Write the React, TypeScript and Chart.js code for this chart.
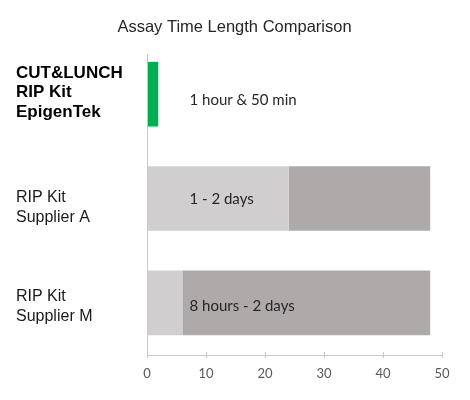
import { useEffect, useRef } from "react";
import { Chart, registerables, Plugin } from "chart.js";

Chart.register(...registerables);

const kits = [
  ["CUT&LUNCH", "RIP Kit", "EpigenTek"],
  ["RIP Kit", "Supplier A"],
  ["RIP Kit", "Supplier M"],
];
const shortestHours = [1.9, 24, 6];
const extraHours = [0, 24, 42];
const timeLabels = ["1 hour & 50 min", "1 - 2 days", "8 hours - 2 days"];
const baseColors = ["#00B050", "#D0CECE", "#D0CECE"];

const AXIS_GREY = "#C8C8C8";
const ARIAL = "'Liberation Sans', Arial, sans-serif";

const extrasPlugin: Plugin<"bar"> = {
  id: "extras",
  afterDraw(chart) {
    const { ctx, chartArea, scales } = chart;
    const x = scales.x;
    const y = scales.y;
    ctx.save();
    // vertical axis line, starting a bit below the top of the plot
    ctx.strokeStyle = AXIS_GREY;
    ctx.lineWidth = 1;
    ctx.beginPath();
    ctx.moveTo(chartArea.left + 0.5, chartArea.top + 12);
    ctx.lineTo(chartArea.left + 0.5, chartArea.bottom);
    ctx.stroke();
    // tick marks cross the x axis line
    x.ticks.forEach((t) => {
      const px = Math.round(x.getPixelForValue(t.value)) + 0.5;
      ctx.beginPath();
      ctx.moveTo(px, chartArea.bottom - 3);
      ctx.lineTo(px, chartArea.bottom);
      ctx.stroke();
    });

    // category labels (left aligned, nudged like the original)
    ctx.textAlign = "left";
    ctx.textBaseline = "middle";
    const catShift = [-1.5, 9, 4];
    const lineH = 19.5;
    kits.forEach((lines, i) => {
      ctx.font = i === 0 ? `bold 17px ${ARIAL}` : `16px ${ARIAL}`;
      ctx.fillStyle = i === 0 ? "#000000" : "#1a1a1a";
      const mid = y.getPixelForValue(i) + catShift[i];
      lines.forEach((ln, j) => {
        ctx.fillText(ln, 16, mid + (j - (lines.length - 1) / 2) * lineH);
      });
    });

    // duration labels on the bars
    ctx.fillStyle = "#262626";
    ctx.font = "15px Lato, 'Open Sans', sans-serif";
    const offsets = [6, 1, 3];
    timeLabels.forEach((txt, i) => {
      ctx.fillText(txt, x.getPixelForValue(7.2), y.getPixelForValue(i) + offsets[i]);
    });
    ctx.restore();
  },
};

export default function App() {
  const chartRef = useRef<HTMLCanvasElement | null>(null);
  const chartInstance = useRef<Chart | null>(null);

  useEffect(() => {
    if (!chartRef.current) return;
    const ctx = chartRef.current.getContext("2d");
    if (!ctx) return;

    if (chartInstance.current) {
      chartInstance.current.destroy();
    }

    chartInstance.current = new Chart(ctx, {
      type: "bar",
      data: {
        labels: kits,
        datasets: [
          {
            label: "Shortest",
            data: shortestHours,
            backgroundColor: baseColors,
            categoryPercentage: 1,
            barPercentage: 0.62,
          },
          {
            label: "Longest",
            data: extraHours,
            backgroundColor: "#AEAAAA",
            categoryPercentage: 1,
            barPercentage: 0.62,
          },
        ],
      },
      options: {
        indexAxis: "y",
        responsive: false,
        animation: false,
        layout: { padding: { left: 27, right: 28, top: 0, bottom: 0 } },
        plugins: {
          legend: { display: false },
          tooltip: { enabled: false },
          title: {
            display: true,
            text: "Assay Time Length Comparison",
            color: "#262626",
            font: { family: ARIAL, size: 16.5, weight: "normal" },
            padding: { top: 18, bottom: 4.2 },
          },
        },
        scales: {
          x: {
            stacked: true,
            min: 0,
            max: 50,
            ticks: {
              stepSize: 10,
              color: "#595959",
              font: { family: "Lato, 'Open Sans', sans-serif", size: 13 },
              padding: 8,
            },
            grid: {
              drawOnChartArea: false,
              drawTicks: true,
              tickLength: 3,
              color: AXIS_GREY,
            },
            border: { display: true, color: AXIS_GREY },
            afterFit(scale) {
              scale.height = 45;
            },
          },
          y: {
            stacked: true,
            ticks: { display: false },
            grid: { display: false },
            border: { display: false },
            afterFit(scale) {
              scale.width = 120;
            },
          },
        },
      },
      plugins: [extrasPlugin],
    });

    return () => {
      if (chartInstance.current) {
        chartInstance.current.destroy();
        chartInstance.current = null;
      }
    };
  }, []);

  return (
    <div style={{ position: "absolute", left: 0, top: 0, width: 470, height: 400, background: "#fff" }}>
      <canvas ref={chartRef} width={470} height={400} />
    </div>
  );
}
